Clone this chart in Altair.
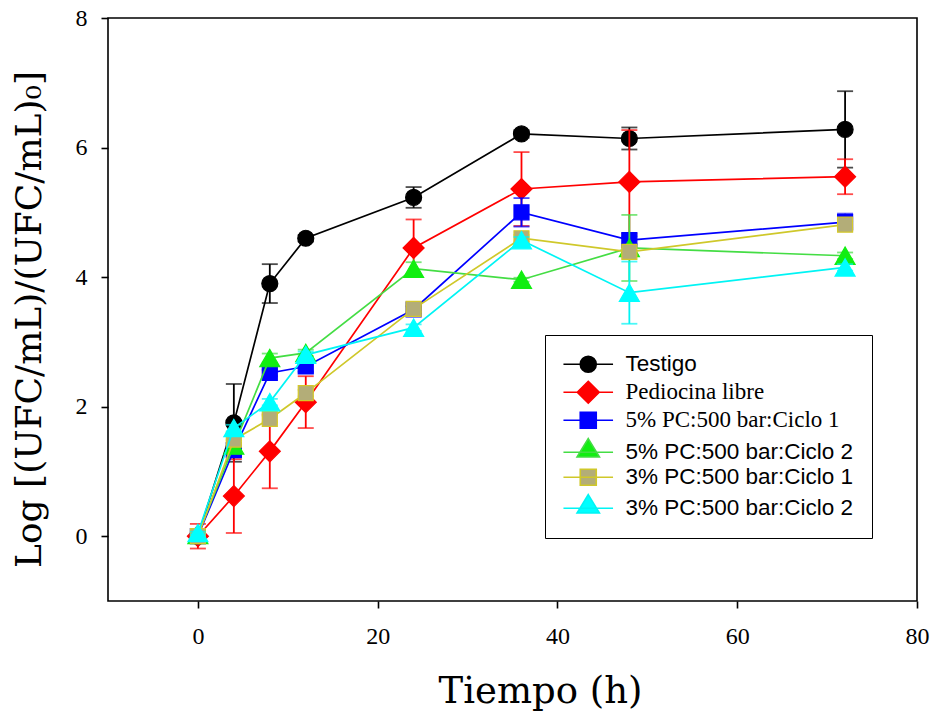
import altair as alt
import pandas as pd

# Sampling times (h)
tiempo = [0, 4, 8, 12, 24, 36, 48, 72]

series = [
    "Testigo",
    "Pediocina libre",
    "5% PC:500 bar:Ciclo 1",
    "5% PC:500 bar:Ciclo 2",
    "3% PC:500 bar:Ciclo 1",
    "3% PC:500 bar:Ciclo 2",
]

# Log[(UFC/mL)/(UFC/mL)0] means and their error bars
testigo = [0.00, 1.75, 3.90, 4.60, 5.23, 6.21, 6.14, 6.28]
testigo_err = [0.05, 0.60, 0.30, 0.05, 0.16, 0.06, 0.17, 0.59]
pediocina = [0.00, 0.62, 1.31, 2.07, 4.45, 5.36, 5.47, 5.55]
pediocina_err = [0.19, 0.57, 0.57, 0.40, 0.44, 0.57, 0.80, 0.27]
pc5_c1 = [0.00, 1.33, 2.52, 2.62, 3.50, 5.00, 4.57, 4.85]
pc5_c1_err = [0.02, 0.10, 0.05, 0.08, 0.05, 0.22, 0.06, 0.13]
pc5_c2 = [0.02, 1.40, 2.75, 2.83, 4.13, 3.96, 4.45, 4.33]
pc5_c2_err = [0.02, 0.08, 0.07, 0.05, 0.10, 0.03, 0.51, 0.05]
pc3_c1 = [0.00, 1.49, 1.81, 2.21, 3.51, 4.60, 4.39, 4.81]
pc3_c1_err = [0.02, 0.06, 0.05, 0.05, 0.05, 0.05, 0.05, 0.05]
pc3_c2 = [0.05, 1.67, 2.07, 2.80, 3.22, 4.57, 3.76, 4.15]
pc3_c2_err = [0.02, 0.05, 0.05, 0.05, 0.05, 0.05, 0.48, 0.05]

valores = [testigo, pediocina, pc5_c1, pc5_c2, pc3_c1, pc3_c2]
errores = [testigo_err, pediocina_err, pc5_c1_err, pc5_c2_err, pc3_c1_err, pc3_c2_err]

# Styling per series
line_colors = ["#000000", "#ff0000", "#0000ff", "#44dd44", "#cfc82a", "#00f4f4"]
fill_colors = ["#000000", "#ff0000", "#0000ff", "#11ee11", "#b3ad78", "#00ffff"]
shapes = ["circle", "diamond", "square", "triangle-up", "square", "triangle-up"]
sizes = [256, 441, 225, 400, 225, 400]

# Legend glyphs: a short line segment with the marker on top
legend_paths = [
    "M-3.1,0H3.1M1,0A1,1,0,1,1,-1,0A1,1,0,1,1,1,0Z",
    "M-3.1,0H3.1M0,-1.37L1.37,0L0,1.37L-1.37,0Z",
    "M-3.1,0H3.1M-1,-1H1V1H-1Z",
    "M-3.1,0H3.1M0,-1.7L1.4,0.6L-1.4,0.6Z",
    "M-3.1,0H3.1M-1,-1H1V1H-1Z",
    "M-3.1,0H3.1M0,-1.7L1.4,0.6L-1.4,0.6Z",
]

rows = []
for name, vals, errs in zip(series, valores, errores):
    for t, v, e in zip(tiempo, vals, errs):
        rows.append({"serie": name, "t": t, "v": v, "lo": v - e, "hi": v + e})
df = pd.DataFrame(rows)

xscale = alt.Scale(domain=[-10, 80], nice=False, zero=False)
yscale = alt.Scale(domain=[-1, 8], nice=False, zero=False)
xaxis = alt.Axis(values=[0, 20, 40, 60, 80], title="Tiempo (h)",
                 titleX=432, titleY=101, titleBaseline="alphabetic",
                 titleAlign="center", titleFontSize=37, labelPadding=16,
                 labelFlush=False)
yaxis = alt.Axis(values=[0, 2, 4, 6, 8], title="Log [(UFC/mL)/(UFC/mL)\u2080]",
                 titleX=-68, titleY=301, titleAngle=-90, titleBaseline="alphabetic",
                 titleAlign="center", titleFontSize=36, labelPadding=14,
                 labelFlush=False)

X = alt.X("t:Q", scale=xscale, axis=xaxis)


def Yf(field):
    return alt.Y(f"{field}:Q", scale=yscale, axis=yaxis)


layers = []
for i, name in enumerate(series):
    base = alt.Chart(df).transform_filter(alt.datum.serie == name)
    lc, fc = line_colors[i], fill_colors[i]
    layers.append(base.mark_line(color=lc, strokeWidth=1.7).encode(x=X, y=Yf("v")))
    layers.append(base.mark_rule(color=lc, strokeWidth=1.8).encode(
        x=X, y=Yf("lo"), y2="hi:Q"))
    for cap in ["lo", "hi"]:
        layers.append(base.mark_tick(color=lc, orient="horizontal", size=16,
                                     thickness=1.8).encode(x=X, y=Yf(cap)))
    stroke = "#d4c82a" if name == "3% PC:500 bar:Ciclo 1" else fc
    layers.append(base.mark_point(filled=True, shape=shapes[i], size=sizes[i],
                                  fill=fc, stroke=stroke, strokeWidth=1.2,
                                  opacity=1).encode(x=X, y=Yf("v")))

serif_labels = "['Pediocina libre', '5% PC:500 bar:Ciclo 1']"
leg = alt.Legend(
    title=None, orient="none", legendX=437, legendY=317,
    padding=18, strokeColor="black", fillColor="white",
    symbolSize=256, symbolStrokeWidth=1.6, symbolOpacity=1,
    symbolOffset=14, labelOffset=26, rowPadding=2,
    labelLimit=500, labelColor="black",
    labelFont=alt.ExprRef(f"indexof({serif_labels}, datum.label) >= 0 ? 'Liberation Serif' : 'Liberation Sans'"),
    labelFontSize=alt.ExprRef(f"indexof({serif_labels}, datum.label) >= 0 ? 23 : 22.5"),
)

legend_layer = alt.Chart(df).mark_point(filled=True, opacity=0).encode(
    x=X, y=Yf("v"),
    shape=alt.Shape("serie:N", scale=alt.Scale(domain=series, range=legend_paths), legend=leg),
    fill=alt.Fill("serie:N", scale=alt.Scale(domain=series, range=fill_colors), legend=leg),
    stroke=alt.Stroke("serie:N", scale=alt.Scale(domain=series, range=line_colors), legend=leg),
)

chart = alt.layer(*layers, legend_layer).properties(
    width=809, height=583,
    padding={"left": 108, "top": 18, "right": 15, "bottom": 112},
    autosize=alt.AutoSizeParams(type="none"),
    background="white",
).configure_view(
    stroke="black", strokeWidth=1.6
).configure_axis(
    grid=False, domain=False, tickColor="black", tickWidth=1.6, tickSize=7,
    labelFont="Liberation Serif", labelFontSize=24, labelColor="black",
    titleFont="DejaVu Serif", titleFontWeight="normal", titleColor="black",
)

chart.save("out.html", embed_options={"renderer": "svg", "actions": False})
